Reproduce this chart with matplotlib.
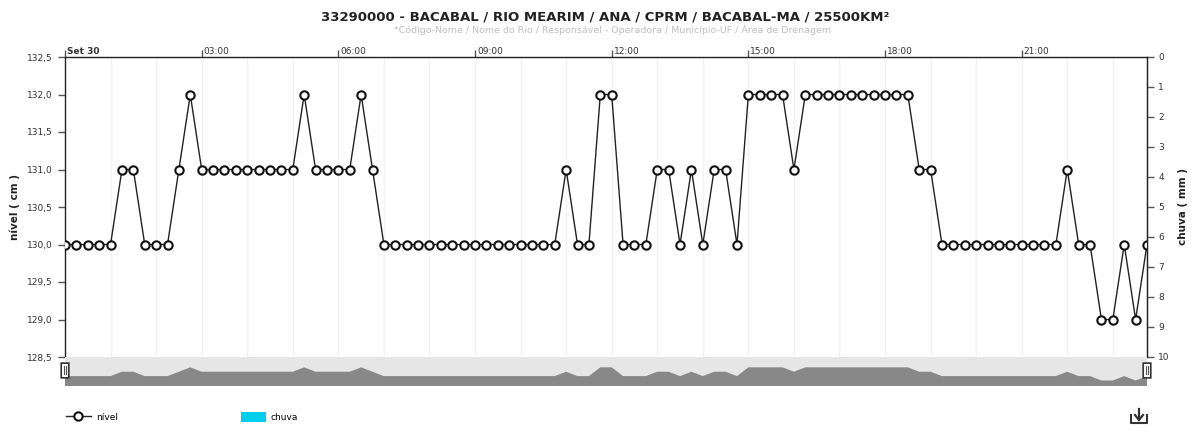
""" Nivel / chuva chart for station 33290000 (Bacabal) """

import matplotlib
matplotlib.use("Agg")
import matplotlib.pyplot as plt
import matplotlib.transforms as mtransforms
from matplotlib.lines import Line2D
from matplotlib.patches import Patch, FancyBboxPatch
import numpy as np

# readings every 15 minutes, Set 30 00:00 -> 23:45
hours = np.arange(96) * 0.25
nivel = [
	130, 130, 130, 130, 130, 131, 131, 130, 130, 130, 131, 132,
	131, 131, 131, 131, 131, 131, 131, 131, 131, 132, 131, 131,
	131, 131, 132, 131, 130, 130, 130, 130, 130, 130, 130, 130,
	130, 130, 130, 130, 130, 130, 130, 130, 131, 130, 130, 132,
	132, 130, 130, 130, 131, 131, 130, 131, 130, 131, 131, 130,
	132, 132, 132, 132, 131, 132, 132, 132, 132, 132, 132, 132,
	132, 132, 132, 131, 131, 130, 130, 130, 130, 130, 130, 130,
	130, 130, 130, 130, 131, 130, 130, 129, 129, 130, 129, 130,
]
tick_hours = [0, 3, 6, 9, 12, 15, 18, 21]
tick_labels = ["Set 30", "03:00", "06:00", "09:00", "12:00", "15:00", "18:00", "21:00"]
nivel_ticks = [128.5, 129.0, 129.5, 130.0, 130.5, 131.0, 131.5, 132.0, 132.5]
chuva_ticks = list(range(0, 11))

title = "33290000 - BACABAL / RIO MEARIM / ANA / CPRM / BACABAL-MA / 25500KM²"
subtitle = "*Código-Nome / Nome do Rio / Responsável - Operadora / Município-UF / Área de Drenagem"

W, H = 1195, 432
fig = plt.figure(figsize=(W / 100, H / 100), dpi=100)
plt.rcParams['font.family'] = ['DejaVu Sans']

def fbox(x0, y0, x1, y1):
	# pixel box (top-left origin) -> figure fraction rect
	return [x0 / W, 1 - y1 / H, (x1 - x0) / W, (y1 - y0) / H]

ax = fig.add_axes(fbox(65, 57, 1147, 357))
xmin, xmax = hours[0], hours[-1]

ax.plot(hours, nivel, color='#222222', lw=1, marker='o', ms=6,
	mfc='white', mec='#111111', mew=1.5, zorder=3)
ax.set_xlim(xmin, xmax)
ax.set_ylim(128.5, 132.5)

# hourly vertical grid
for h in range(1, 24):
	ax.axvline(h, color='#f2f2f2', lw=1, zorder=0)

ax.xaxis.tick_top()
ax.set_xticks(tick_hours)
ax.set_xticklabels(tick_labels, fontsize=6.5, color='#333333', ha='left')
ax.tick_params(axis='x', length=5, width=1, color='#555555', pad=-4)
offset = mtransforms.ScaledTranslation(2 / 100, 0, fig.dpi_scale_trans)
for lab in ax.get_xticklabels():
	lab.set_transform(lab.get_transform() + offset)
ax.get_xticklabels()[0].set_fontweight('bold')

ax.set_yticks(nivel_ticks)
ax.set_yticklabels([f"{v:.1f}".replace('.', ',') for v in nivel_ticks],
	fontsize=6.5, color='#333333')
ax.tick_params(axis='y', length=5, width=1, color='#555555', pad=4)
ax.set_ylabel("nível ( cm )", fontsize=7.5, fontweight='bold', color='#222222', labelpad=5)

for side in ['top', 'left', 'right']:
	ax.spines[side].set_color('#222222')
	ax.spines[side].set_linewidth(1)
ax.spines['bottom'].set_visible(False)

ax2 = ax.twinx()
ax2.set_ylim(10, 0)
ax2.set_yticks(chuva_ticks)
ax2.set_yticklabels([str(v) for v in chuva_ticks], fontsize=6.5, color='#333333')
ax2.tick_params(axis='y', length=5, width=1, color='#555555', pad=3)
ax2.set_ylabel("chuva ( mm )", fontsize=7.5, fontweight='bold', color='#222222', labelpad=6)
for side in ['top', 'left', 'bottom']:
	ax2.spines[side].set_visible(False)
ax2.spines['right'].set_color('#222222')

# navigator strip
nav = fig.add_axes(fbox(65, 357, 1147, 386))
nav.set_facecolor('#e6e6e6')
nav.fill_between(hours, 0, nivel, color='#888888', lw=0)
nav.set_xlim(xmin, xmax)
nav.set_ylim(127.74, 134.36)
nav.set_xticks([])
nav.set_yticks([])
for s in nav.spines.values():
	s.set_visible(False)
for xh in [xmin, xmax]:
	hx = (xh - xmin) / (xmax - xmin)
	nav.add_patch(FancyBboxPatch((hx - 0.0035, 0.28), 0.007, 0.51,
		boxstyle='round,pad=0,rounding_size=0.002', transform=nav.transAxes,
		facecolor='white', edgecolor='#333333', lw=1.2, clip_on=False, zorder=5))
	for dx in (-0.0011, 0.0011):
		nav.plot([hx + dx, hx + dx], [0.40, 0.68], color='#555555', lw=0.8,
			transform=nav.transAxes, clip_on=False, zorder=6)

fig.text(605 / W, 1 - 17 / H, title, ha='center', va='center',
	fontsize=9.5, fontweight='bold', color='#222222')
fig.text(613 / W, 1 - 30 / H, subtitle, ha='center', va='center',
	fontsize=6.8, color='#c0c0c0')

handles = [
	Line2D([], [], color='#222222', lw=1, marker='o', ms=6, mfc='white',
		mec='#111111', mew=1.5),
	Patch(facecolor='#00ccee', edgecolor='none'),
]
fig.legend(handles, ["nível", "chuva"], loc='center left',
	bbox_to_anchor=(61 / W, 1 - 417 / H), ncol=2, frameon=False,
	fontsize=6.5, handlelength=2.85, handleheight=1.3, handletextpad=0.5,
	columnspacing=13.6, borderpad=0, borderaxespad=0.5)

# download icon
ix, iy = 1139 / W, 1 - 419 / H
dx, dy = 8 / W, 4 / H
fig.add_artist(Line2D([ix - dx, ix - dx, ix + dx, ix + dx], [iy + dy, iy - dy, iy - dy, iy + dy],
	color='#333333', lw=1.5))
fig.add_artist(Line2D([ix, ix], [iy + 10 / H, iy - 1 / H], color='#333333', lw=1.6))
fig.add_artist(Line2D([ix - 4 / W, ix, ix + 4 / W], [iy + 4 / H, iy - 1 / H, iy + 4 / H],
	color='#333333', lw=1.6))

fig.savefig("out.png", dpi=100)
